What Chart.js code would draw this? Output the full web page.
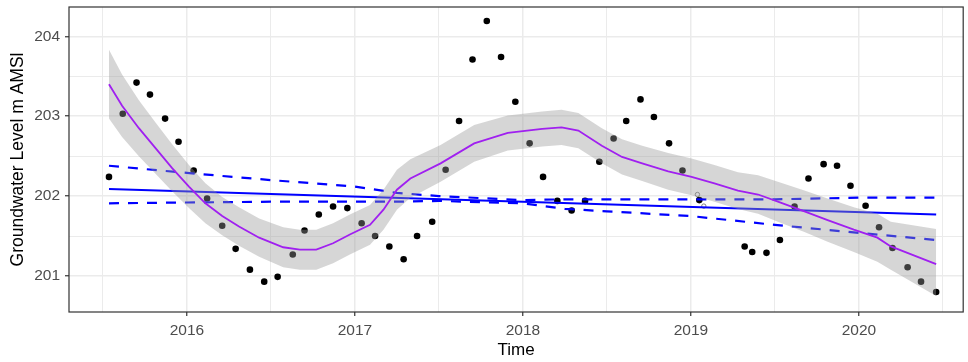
<!DOCTYPE html>
<html>
<head>
<meta charset="utf-8">
<script src="https://cdn.jsdelivr.net/npm/chart.js@4.4.1/dist/chart.umd.min.js"></script>
<style>
  html, body { margin: 0; padding: 0; background: #fff; }
  #wrap { width: 968px; height: 362px; }
</style>
</head>
<body>
<div id="wrap"><canvas id="levels" width="968" height="362"></canvas></div>
<script>
// monthly observations (decimal year, m AMSl)
const obsTime = [2015.536, 2015.618, 2015.70, 2015.78, 2015.87, 2015.95, 2016.04, 2016.12, 2016.21, 2016.29,
  2016.375, 2016.46, 2016.54, 2016.63, 2016.70, 2016.785, 2016.87, 2016.955, 2017.04, 2017.12,
  2017.205, 2017.29, 2017.37, 2017.46, 2017.54, 2017.62, 2017.70, 2017.785, 2017.87, 2017.955,
  2018.04, 2018.12, 2018.205, 2018.29, 2018.37, 2018.455, 2018.54, 2018.615, 2018.70, 2018.78,
  2018.87, 2018.95, 2019.05, 2019.32, 2019.365, 2019.45, 2019.53, 2019.617, 2019.70, 2019.79,
  2019.87, 2019.95, 2020.04, 2020.12, 2020.20, 2020.29, 2020.37, 2020.46]
const obsLevel = [202.24, 203.03, 203.42, 203.27, 202.97, 202.68, 202.32, 201.97, 201.63, 201.34,
  201.08, 200.93, 200.99, 201.27, 201.57, 201.77, 201.87, 201.85, 201.66, 201.50,
  201.37, 201.21, 201.50, 201.68, 202.33, 202.94, 203.71, 204.19, 203.74, 203.18,
  202.66, 202.24, 201.94, 201.82, 201.94, 202.43, 202.72, 202.94, 203.21, 202.99,
  202.66, 202.32, 201.95, 201.37, 201.30, 201.29, 201.45, 201.87, 202.22, 202.40,
  202.38, 202.13, 201.88, 201.61, 201.35, 201.11, 200.93, 200.80]

// two small open circles near Jan 2019
const openTime = [2019.039, 2019.077]
const openLevel = [202.02, 201.875]

// loess smooth and its band
const smoothTime = [2015.536, 2015.614, 2015.714, 2015.813, 2015.912, 2016.012, 2016.11, 2016.21, 2016.31, 2016.43,
  2016.573, 2016.672, 2016.77, 2016.87, 2016.97, 2017.09, 2017.17, 2017.25, 2017.33, 2017.51,
  2017.71, 2017.91, 2018.115, 2018.23, 2018.33, 2018.47, 2018.59, 2018.71, 2018.865, 2019.004,
  2019.14, 2019.28, 2019.40, 2019.518, 2019.676, 2019.814, 2019.97, 2020.11, 2020.19, 2020.46]
const smoothFit = [203.40, 203.13, 202.85, 202.60, 202.35, 202.12, 201.91, 201.75, 201.62, 201.48,
  201.36, 201.33, 201.33, 201.41, 201.52, 201.64, 201.83, 202.08, 202.22, 202.41,
  202.66, 202.79, 202.84, 202.86, 202.82, 202.63, 202.49, 202.41, 202.31, 202.24,
  202.16, 202.07, 202.02, 201.93, 201.81, 201.70, 201.58, 201.48, 201.37, 201.15]
const smoothUpper = [203.83, 203.52, 203.20, 202.92, 202.65, 202.39, 202.16, 201.99, 201.86, 201.72,
  201.61, 201.58, 201.58, 201.66, 201.77, 201.89, 202.08, 202.33, 202.46, 202.64,
  202.89, 203.01, 203.06, 203.08, 203.04, 202.85, 202.71, 202.63, 202.54, 202.47,
  202.39, 202.30, 202.26, 202.18, 202.07, 201.97, 201.86, 201.78, 201.68, 201.59]
const smoothLower = [202.97, 202.74, 202.50, 202.28, 202.06, 201.85, 201.66, 201.51, 201.38, 201.24,
  201.11, 201.08, 201.08, 201.16, 201.27, 201.39, 201.58, 201.83, 201.98, 202.18,
  202.43, 202.57, 202.62, 202.64, 202.60, 202.41, 202.27, 202.19, 202.08, 202.01,
  201.93, 201.84, 201.78, 201.68, 201.55, 201.43, 201.30, 201.18, 201.08, 200.75]

// linear trend and its confidence lines
const trendTime = [2015.536, 2020.46]
const trendFit = [202.09, 201.77]
const ciTime = [2015.536, 2016, 2016.5, 2017, 2017.25, 2017.5, 2018, 2018.25, 2018.5, 2019, 2019.5, 2020, 2020.46]
const ciUpper = [202.38, 202.29, 202.20, 202.12, 202.04, 202.00, 201.95, 201.96, 201.96, 201.96, 201.96, 201.98, 201.98]
const ciLower = [201.91, 201.92, 201.93, 201.93, 201.93, 201.94, 201.91, 201.84, 201.81, 201.75, 201.64, 201.54, 201.45]

const xTicks = [2015.5, 2016, 2016.5, 2017, 2017.5, 2018, 2018.5, 2019, 2019.5, 2020, 2020.5]
const yTicks = [201, 201.5, 202, 202.5, 203, 203.5, 204]

const pts = (xs, ys) => xs.map((x, i) => ({x, y: ys[i]}))
const isMajor = ctx => ctx.tick && Number.isInteger(ctx.tick.value)

const FONT = '"Liberation Sans", Arial, sans-serif'

// ggplot-style frame round the panel
const panelBorder = {
  id: 'panelBorder',
  afterDraw(chart) {
    const {ctx, chartArea: a} = chart
    ctx.save()
    ctx.strokeStyle = '#333333'
    ctx.lineWidth = 1.2
    ctx.strokeRect(a.left, a.top, a.right - a.left, a.bottom - a.top)
    ctx.restore()
  }
}

function gridOpts() {
  return {
    color: '#ebebeb',
    lineWidth: ctx => isMajor(ctx) ? 1.5 : 1,
    drawTicks: true,
    tickLength: 4,
    tickWidth: 1.2,
    tickColor: ctx => isMajor(ctx) ? '#333333' : 'rgba(0,0,0,0)'
  }
}

const lineDefaults = {type: 'line', pointRadius: 0, fill: false, tension: 0}

new Chart(document.getElementById('levels'), {
  type: 'scatter',
  data: {
    datasets: [
      {...lineDefaults, data: pts(smoothTime, smoothFit), borderColor: '#A020F0', borderWidth: 1.8, order: 1},
      {...lineDefaults, data: pts(smoothTime, smoothUpper), borderWidth: 0, borderColor: 'rgba(0,0,0,0)',
        fill: '+1', backgroundColor: 'rgba(153,153,153,0.4)', order: 3},
      {...lineDefaults, data: pts(smoothTime, smoothLower), borderWidth: 0, borderColor: 'rgba(0,0,0,0)', order: 3},
      {...lineDefaults, data: pts(trendTime, trendFit), borderColor: '#0000FF', borderWidth: 2, order: 5},
      {...lineDefaults, data: pts(ciTime, ciUpper), borderColor: '#0000FF', borderWidth: 2.2, borderDash: [10, 9], order: 5},
      {...lineDefaults, data: pts(ciTime, ciLower), borderColor: '#0000FF', borderWidth: 2.2, borderDash: [10, 9], order: 5},
      {data: pts(obsTime, obsLevel), pointRadius: 3.3, pointBackgroundColor: '#000', pointBorderWidth: 0, order: 8},
      {data: pts(openTime, openLevel), pointRadius: 2.2, pointBackgroundColor: 'rgba(0,0,0,0)',
        pointBorderColor: '#666', pointBorderWidth: 0.8, order: 8}
    ]
  },
  options: {
    responsive: false,
    animation: false,
    layout: {padding: {top: 7, right: 2, left: 0, bottom: 0}},
    plugins: {legend: {display: false}, tooltip: {enabled: false}},
    scales: {
      x: {
        type: 'linear',
        min: 2015.298,
        max: 2020.621,
        afterBuildTicks: s => { s.ticks = xTicks.map(v => ({value: v})) },
        afterFit: s => { s.height = 50; s.paddingLeft = 0; s.paddingRight = 0 },
        grid: gridOpts(),
        border: {display: false},
        ticks: {
          autoSkip: false, maxRotation: 0, padding: 5, color: '#4d4d4d',
          font: {family: FONT, size: 15.5},
          callback: v => Number.isInteger(v) ? String(v) : ''
        },
        title: {display: true, text: 'Time', color: '#000', font: {family: FONT, size: 17}, padding: {top: 0, bottom: 1}}
      },
      y: {
        type: 'linear',
        min: 200.55,
        max: 204.366,
        afterBuildTicks: s => { s.ticks = yTicks.map(v => ({value: v})) },
        afterFit: s => { s.width = 69; s.paddingTop = 0; s.paddingBottom = 0 },
        grid: gridOpts(),
        border: {display: false},
        ticks: {
          autoSkip: false, padding: 5, color: '#4d4d4d',
          font: {family: FONT, size: 15.5},
          callback: v => Number.isInteger(v) ? String(v) : ''
        },
        title: {display: true, text: 'Groundwater Level m AMSl', color: '#000', font: {family: FONT, size: 17.5}, padding: {top: 8, bottom: 0}}
      }
    }
  },
  plugins: [panelBorder]
})
</script>
</body>
</html>
